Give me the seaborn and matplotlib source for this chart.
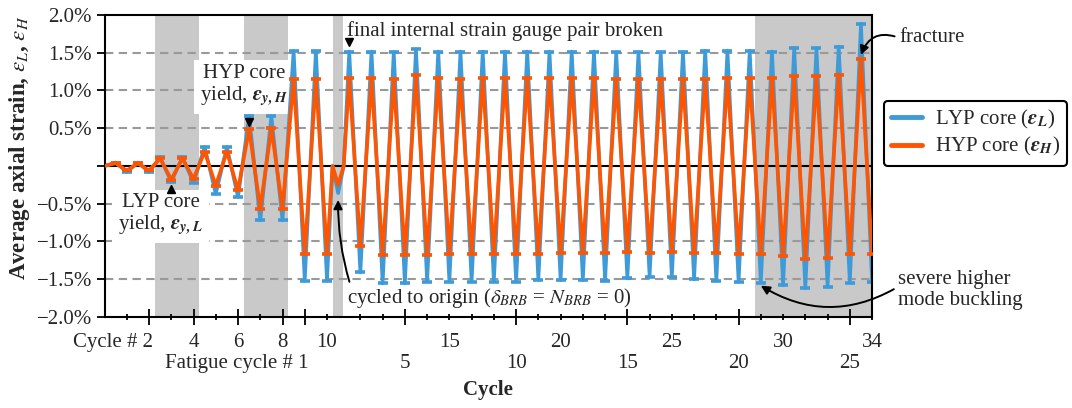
import numpy as np
import pandas as pd
import matplotlib
matplotlib.use("Agg")
import matplotlib.pyplot as plt
import matplotlib.transforms as mtransforms
from matplotlib.lines import Line2D
import seaborn as sns

# ---------------- data ----------------
cycle_position = [0, 0.5, 1, 1.5, 2, 2.5, 3, 3.5, 4, 4.5, 5, 5.5, 6, 6.5, 7, 7.5, 8, 8.5, 9, 9.5, 10,
                  10.25, 10.5, 10.75,
                  11, 11.5, 12, 12.5, 13, 13.5, 14, 14.5, 15, 15.5, 16, 16.5, 17, 17.5, 18, 18.5,
                  19, 19.5, 20, 20.5, 21, 21.5, 22, 22.5, 23, 23.5, 24, 24.5, 25, 25.5, 26, 26.5,
                  27, 27.5, 28, 28.5, 29, 29.5, 30, 30.5, 31, 31.5, 32, 32.5, 33, 33.5, 34, 34.5]

lyp_strain = [0, 0.045, -0.08, 0.045, -0.08, 0.115, -0.21, 0.115, -0.22, 0.25, -0.37, 0.25, -0.41,
              0.66, -0.72, 0.66, -0.72, 1.52, -1.52, 1.52, -1.52,
              0, -0.36, 0,
              1.515, -1.41, 1.515, -1.555, 1.505, -1.555, 1.545, -1.53, 1.515, -1.53, 1.515, -1.53,
              1.515, -1.53, 1.515, -1.53, 1.515, -1.51, 1.515, -1.51, 1.515, -1.51, 1.515, -1.52,
              1.505, -1.49, 1.505, -1.465, 1.505, -1.465, 1.505, -1.50, 1.527, -1.52, 1.527, -1.535,
              1.527, -1.545, 1.515, -1.58, 1.56, -1.615, 1.56, -1.60, 1.58, -1.545, 1.88, -1.54]

hyp_strain = [0, 0.035, -0.06, 0.035, -0.06, 0.10, -0.18, 0.10, -0.17, 0.19, -0.26, 0.19, -0.32,
              0.49, -0.565, 0.50, -0.565, 1.15, -1.165, 1.15, -1.165,
              0, -0.25, 0,
              1.16, -1.065, 1.16, -1.18, 1.15, -1.18, 1.20, -1.18, 1.17, -1.165, 1.15, -1.165,
              1.17, -1.165, 1.17, -1.165, 1.17, -1.165, 1.17, -1.157, 1.17, -1.148, 1.17, -1.155,
              1.15, -1.145, 1.15, -1.155, 1.15, -1.135, 1.15, -1.155, 1.15, -1.157, 1.17, -1.165,
              1.17, -1.17, 1.17, -1.19, 1.19, -1.235, 1.19, -1.22, 1.21, -1.165, 1.42, -1.17]

uncapped_positions = [0, 10.25, 10.5, 10.75]

series_names = ["LYP core", "HYP core"]
legend_labels = [r"LYP core ($\mathbfit{\varepsilon}_{\mathbfit{L}}$)",
                 r"HYP core ($\mathbfit{\varepsilon}_{\mathbfit{H}}$)"]

cycle_tick_positions = [2, 4, 6, 8, 10, 15.5, 20.5, 25.5, 30.5, 34.5]
cycle_tick_labels = ["2", "4", "6", "8", "10", "15", "20", "25", "30", "34"]
fatigue_tick_positions = [9, 13.5, 18.5, 23.5, 28.5, 33.5]
fatigue_tick_labels = ["1", "5", "10", "15", "20", "25"]
all_cycle_positions = [1, 2, 3, 4, 5, 6, 7, 8, 9, 10, 11.5, 12.5, 13.5, 14.5, 15.5, 16.5, 17.5,
                       18.5, 19.5, 20.5, 21.5, 22.5, 23.5, 24.5, 25.5, 26.5, 27.5, 28.5, 29.5,
                       30.5, 31.5, 32.5, 33.5, 34.5]

ytick_values = [-2.0, -1.5, -1.0, -0.5, 0.0, 0.5, 1.0, 1.5, 2.0]
ytick_labels = ["\u22122.0%", "\u22121.5%", "\u22121.0%", "\u22120.5%", "", "0.5%", "1.0%", "1.5%", "2.0%"]

shade_start = [2.25, 6.25, 10.25, 29.25]
shade_end = [4.25, 8.25, 10.7, 34.5]

# ---------------- style ----------------
sns.set_theme(style="ticks")
plt.rcParams["font.family"] = ["Liberation Serif", "DejaVu Serif"]
plt.rcParams["mathtext.fontset"] = "stix"
plt.rcParams["font.size"] = 15
plt.rcParams["axes.unicode_minus"] = True

BLUE = "#3f9ad8"
ORANGE = "#ff5500"
GRAY = "#c9c9c9"
FS = 15

fig = plt.figure(figsize=(10.72, 4.08), dpi=100)
ax = fig.add_axes([0.0975, 0.223, 0.716, 0.7405])

df = pd.DataFrame({
    "position": cycle_position * 2,
    "strain": lyp_strain + hyp_strain,
    "core": [series_names[0]] * len(cycle_position) + [series_names[1]] * len(cycle_position),
})
df["capped"] = ~df["position"].isin(uncapped_positions)

# shaded regions
for s, e in zip(shade_start, shade_end):
    ax.axvspan(s, e, color=GRAY, lw=0, zorder=0)

# grid lines
for v in ytick_values:
    if v == 0:
        ax.axhline(v, color="black", lw=1.5, zorder=1)
    elif abs(v) < 2:
        ax.axhline(v, color="#999999", lw=1.5, ls=(0, (4, 2.6)), zorder=0.8)

colors = {series_names[0]: BLUE, series_names[1]: ORANGE}
z = 2.0
for name in series_names:
    sub = df[df["core"] == name]
    sns.lineplot(data=sub, x="position", y="strain", color=colors[name], sort=False,
                 estimator=None, lw=2.6, ax=ax, zorder=z, legend=False)
    caps = sub[sub["capped"]]
    ax.plot(caps["position"], caps["strain"], ls="none", marker="_", ms=7,
            mew=2.6, color=colors[name], zorder=z + 0.5)
    z += 1

# axes formatting
ax.set_xlim(0, 34.5)
ax.set_ylim(-2, 2)
major_ticks = [2, 4, 6, 8] + fatigue_tick_positions
minor_ticks = [p for p in all_cycle_positions if p not in major_ticks]
ax.set_xticks(major_ticks)
ax.set_xticks(minor_ticks, minor=True)
ax.set_xticklabels([])
ax.tick_params(axis="x", which="major", direction="inout", length=11, width=1.3, color="black", bottom=True)
ax.tick_params(axis="x", which="minor", direction="inout", length=5, width=1.3, color="black", bottom=True)
ax.set_yticks(ytick_values)
ax.set_yticklabels(ytick_labels, fontsize=FS)
ax.tick_params(axis="y", which="major", direction="out", length=6, width=1.3, color="black", left=True, pad=3)
for sp in ax.spines.values():
    sp.set_visible(True)
    sp.set_color("black")
    sp.set_linewidth(1.5)

ax.set_ylabel(r"Average axial strain, $\varepsilon_L$, $\varepsilon_H$", fontsize=16.5, fontweight="bold")
ax.yaxis.set_label_coords(-0.094, 0.56)
ax.set_xlabel("Cycle", fontsize=FS, fontweight="bold")
ax.xaxis.label.set_va("baseline")
ax.xaxis.set_label_coords(0.5, -0.258)

# custom two-row tick labels
trans = mtransforms.blended_transform_factory(ax.transData, ax.transAxes)
for i, (p, lab) in enumerate(zip(cycle_tick_positions, cycle_tick_labels)):
    if i == 0:
        t = mtransforms.offset_copy(trans, fig=fig, x=4, y=0, units="dots")
        ax.text(p, -0.100, "Cycle # " + lab, transform=t, ha="right", va="baseline", fontsize=FS)
    else:
        ax.text(p, -0.100, lab, transform=trans, ha="center", va="baseline", fontsize=FS)
for i, (p, lab) in enumerate(zip(fatigue_tick_positions, fatigue_tick_labels)):
    if i == 0:
        t = mtransforms.offset_copy(trans, fig=fig, x=4, y=0, units="dots")
        ax.text(p, -0.169, "Fatigue cycle # " + lab, transform=t, ha="right", va="baseline", fontsize=FS)
    else:
        ax.text(p, -0.169, lab, transform=trans, ha="center", va="baseline", fontsize=FS)

# annotations
box = dict(boxstyle="square,pad=0.3", fc="white", ec="none")
ax.text(2.53, -0.65, "LYP core\nyield, $\\mathbfit{\\varepsilon}_{\\mathbfit{y,L}}$", ha="center", va="center",
        fontsize=FS, linespacing=1.05, bbox=box, zorder=1.5)
ax.text(6.27, 1.06, "HYP core\nyield, $\\mathbfit{\\varepsilon}_{\\mathbfit{y,H}}$", ha="center", va="center",
        fontsize=FS, linespacing=1.05, bbox=box, zorder=1.5)
ax.plot([3.0], [-0.31], marker="^", color="black", ms=6, ls="none", zorder=6)
ax.plot([6.5], [0.58], marker="v", color="black", ms=6, ls="none", zorder=6)
ax.plot([11.0], [1.64], marker="v", color="black", ms=6, ls="none", zorder=6)
ax.text(10.88, 1.726, "final internal strain gauge pair broken", ha="left", va="baseline", fontsize=FS, zorder=6)

arrow = dict(arrowstyle="-|>", color="black", lw=1.4, mutation_scale=13, shrinkA=1, shrinkB=0)
ax.annotate(r"cycled to origin ($\delta_{BRB}$ = $N_{BRB}$ = 0)", xy=(10.5, -0.45), xytext=(10.88, -1.82),
            ha="left", va="baseline", fontsize=FS, zorder=6,
            arrowprops=dict(arrow, connectionstyle="arc3,rad=-0.08", relpos=(0.015, 1.0)))
ax.annotate("fracture", xy=(34.0, 1.47), xytext=(35.72, 1.695), ha="left", va="center", fontsize=FS,
            annotation_clip=False, zorder=6,
            arrowprops=dict(arrow, connectionstyle="arc3,rad=0.5", relpos=(0.0, 0.5)))
ax.annotate("severe higher\nmode buckling", xy=(29.5, -1.585), xytext=(35.68, -1.64), ha="left", va="center",
            fontsize=FS, linespacing=1.15, annotation_clip=False, zorder=6,
            arrowprops=dict(arrow, connectionstyle="arc3,rad=-0.3", relpos=(0.0, 0.58)))

# legend
handles = [Line2D([], [], color=BLUE, lw=3.5), Line2D([], [], color=ORANGE, lw=3.5)]
leg = ax.legend(handles, legend_labels, loc="center left", bbox_to_anchor=(1.015, 0.608), fontsize=FS,
                frameon=True, fancybox=True, edgecolor="black", framealpha=1, handlelength=1.5,
                handletextpad=0.6, borderpad=0.35, labelspacing=0.2, borderaxespad=0)
leg.get_frame().set_linewidth(1.5)

fig.savefig("out.png", dpi=100)
